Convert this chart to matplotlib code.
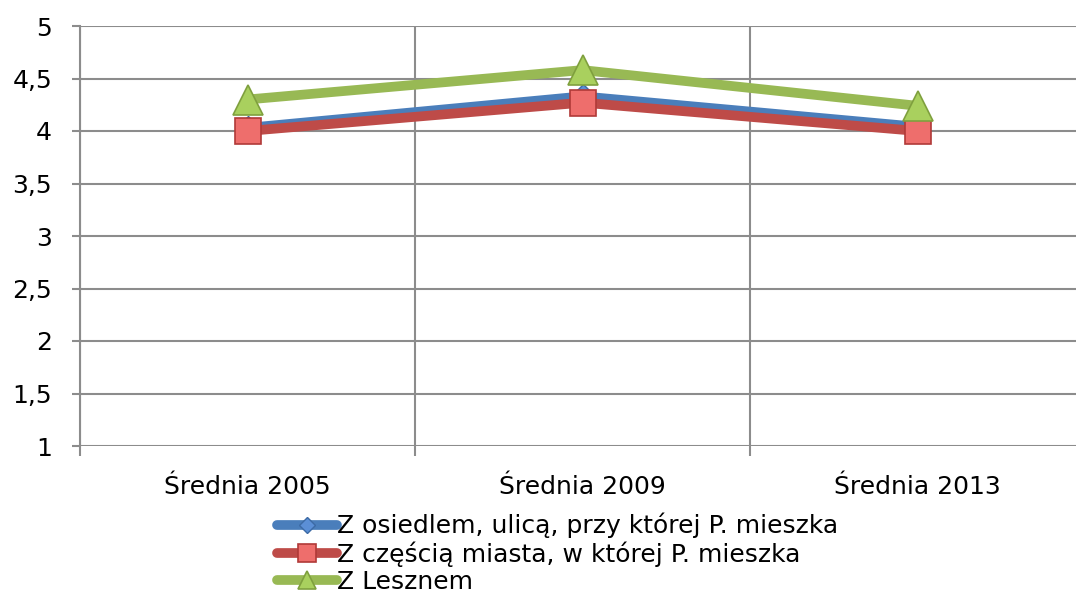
import matplotlib.pyplot as plt
from matplotlib.ticker import FuncFormatter, MultipleLocator

categories = ['Średnia 2005', 'Średnia 2009', 'Średnia 2013']
series_names = ['Z osiedlem, ulicą, przy której P. mieszka',
                'Z częścią miasta, w której P. mieszka',
                'Z Lesznem']
osiedle = [4.03, 4.33, 4.04]
miasto = [4.00, 4.27, 4.00]
leszno = [4.30, 4.58, 4.24]

plt.rcParams['font.family'] = ['DejaVu Sans']

fig = plt.figure(figsize=(10.76, 5.94), dpi=100)
ax = fig.add_axes([80 / 1076, 148 / 594, 1005 / 1076, 420 / 594])

x = list(range(len(categories)))
grid_c = '#8c8c8c'
fs = 18

ax.plot(x, osiedle, color='#4a7ebb', lw=7, marker='D', ms=12,
        mfc='#5b8fd6', mec='#3c6aa5', mew=1, label=series_names[0],
        solid_capstyle='round', zorder=3)
ax.plot(x, miasto, color='#be4b48', lw=7, marker='s', ms=19,
        mfc='#ee6e6c', mec='#b03a38', mew=1.2, label=series_names[1],
        solid_capstyle='round', zorder=4)
ax.plot(x, leszno, color='#98b954', lw=7, marker='^', ms=21,
        mfc='#a9d05e', mec='#7fa03e', mew=1.2, label=series_names[2],
        solid_capstyle='round', zorder=5)

ax.set_xlim(-0.5, 2.5)
ax.set_ylim(1, 5)
ax.yaxis.set_major_locator(MultipleLocator(0.5))
ax.yaxis.set_major_formatter(FuncFormatter(lambda v, p: f'{v:g}'.replace('.', ',')))
ax.set_xticks(x)
ax.set_xticklabels(categories)
ax.set_xticks([-0.5, 0.5, 1.5, 2.5], minor=True)

ax.tick_params(axis='x', which='major', length=0, pad=21, labelsize=fs)
ax.tick_params(axis='x', which='minor', length=7, width=1.5, color=grid_c)
ax.tick_params(axis='y', length=6, width=1.5, color=grid_c, labelsize=fs, pad=14)

ax.grid(axis='y', color=grid_c, lw=1.5)
ax.grid(axis='x', which='minor', color=grid_c, lw=1.5)
ax.set_axisbelow(True)
for s in ['top', 'right', 'bottom']:
    ax.spines[s].set_visible(False)
ax.spines['left'].set_color(grid_c)
ax.spines['left'].set_linewidth(1.5)

fig.legend(loc='lower left', bbox_to_anchor=(262 / 1076, -15 / 594), frameon=False,
           fontsize=fs, numpoints=1, markerscale=0.65, handlelength=2.4,
           handletextpad=0.0, labelspacing=0.12, borderpad=0.1)

plt.savefig('out.png', dpi=100)
